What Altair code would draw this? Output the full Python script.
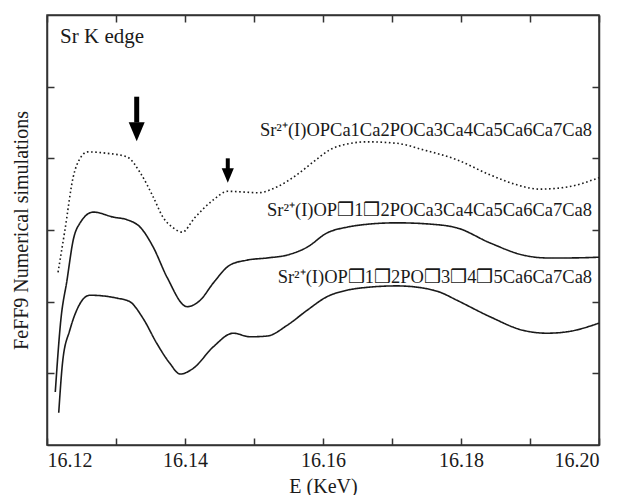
import altair as alt
import pandas as pd

FONT = "Liberation Serif"
INK = "#1a1a1a"
FRAME = "#333"

# ---- data ----
dot_E = [16.1216, 16.1226, 16.1238, 16.1248, 16.1259, 16.1287, 16.1316, 16.1335, 16.1354, 16.1368,
         16.1383, 16.1396, 16.1414, 16.1441, 16.1462, 16.1484, 16.1506, 16.1533, 16.1562, 16.1586,
         16.1610, 16.1635, 16.1664, 16.1707, 16.1745, 16.1794, 16.1842, 16.1881, 16.1914, 16.1954, 16.2000]
dot_Y = [2.41, 3.00, 3.74, 4.00, 4.09, 4.07, 4.02, 3.80, 3.46, 3.18,
         3.03, 2.97, 3.17, 3.42, 3.54, 3.53, 3.52, 3.60, 3.77, 3.95,
         4.12, 4.20, 4.23, 4.21, 4.12, 3.98, 3.77, 3.63, 3.57, 3.60, 3.73]

s1_E = [16.1212, 16.1220, 16.1229, 16.1238, 16.1248, 16.1267, 16.1296, 16.1317, 16.1335, 16.1354,
        16.1374, 16.1403, 16.1422, 16.1441, 16.1465, 16.1490, 16.1519, 16.1548, 16.1577, 16.1606,
        16.1635, 16.1664, 16.1707, 16.1770, 16.1794, 16.1842, 16.1890, 16.1925, 16.1954, 16.2000]
s1_Y = [0.74, 1.74, 2.30, 2.86, 3.10, 3.25, 3.18, 3.14, 3.04, 2.76,
        2.34, 1.93, 2.02, 2.26, 2.51, 2.58, 2.61, 2.65, 2.76, 2.96,
        3.04, 3.08, 3.10, 3.07, 3.03, 2.82, 2.65, 2.61, 2.61, 2.62]

s2_E = [16.1217, 16.1223, 16.1233, 16.1243, 16.1262, 16.1301, 16.1320, 16.1339, 16.1359, 16.1378,
        16.1393, 16.1412, 16.1441, 16.1470, 16.1494, 16.1519, 16.1548, 16.1577, 16.1606, 16.1635,
        16.1664, 16.1707, 16.1745, 16.1770, 16.1794, 16.1842, 16.1890, 16.1925, 16.1954, 16.2000]
s2_Y = [0.45, 1.19, 1.60, 1.88, 2.09, 2.05, 2.00, 1.77, 1.42, 1.14,
        0.99, 1.07, 1.37, 1.56, 1.51, 1.52, 1.67, 1.88, 2.07, 2.16,
        2.20, 2.22, 2.19, 2.13, 2.02, 1.79, 1.60, 1.56, 1.58, 1.70]

series_names = ["dotted", "solid1", "solid2"]

label_texts = ["Sr²⁺(I)OPCa1Ca2POCa3Ca4Ca5Ca6Ca7Ca8",
               "Sr²⁺(I)OP❒1❒2POCa3Ca4Ca5Ca6Ca7Ca8",
               "Sr²⁺(I)OP❒1❒2PO❒3❒4❒5Ca6Ca7Ca8"]
label_E = [16.1990, 16.1990, 16.1990]
label_Y = [4.40, 3.28, 2.34]

title_text = ["Sr K edge"]
title_E = [16.1219]
title_Y = [5.69]

arrow_E = [16.1330, 16.1462]
arrow_top = [4.86, 4.00]
arrow_base = [4.50, 3.80]
arrow_tip = [4.24, 3.66]

x_label_vals = [16.12, 16.14, 16.16, 16.18, 16.20]
x_tick_vals = [16.12, 16.13, 16.14, 16.15, 16.16, 16.17, 16.18, 16.19, 16.20]
y_tick_vals = [1, 2, 3, 4, 5]

# ---- tables ----
rows = []
for name, es, ys in zip(series_names, [dot_E, s1_E, s2_E], [dot_Y, s1_Y, s2_Y]):
    for e, y in zip(es, ys):
        rows.append({"series": name, "E": e, "Y": y})
df = pd.DataFrame(rows)

lab_df = pd.DataFrame({"text": label_texts, "E": label_E, "Y": label_Y})
ttl_df = pd.DataFrame({"text": title_text, "E": title_E, "Y": title_Y})
arr_df = pd.DataFrame({"E": arrow_E, "top": arrow_top, "base": arrow_base, "tip": arrow_tip})

xscale = alt.Scale(domain=[16.12, 16.20], nice=False, zero=False)
yscale = alt.Scale(domain=[0, 6], nice=False, zero=False)

TICK = dict(tickSize=7, tickWidth=1.5, tickColor=FRAME, offset=-7, labels=False,
            domain=False, grid=False, title=None)
EDGE = dict(ticks=False, labels=False, domain=True, domainColor=FRAME, domainWidth=1.5,
            grid=False, title=None)

lines = alt.Chart(df).mark_line(strokeWidth=1.6, interpolate="monotone", color=INK).encode(
    x=alt.X("E:Q", scale=xscale, axis=alt.Axis(
        orient="bottom", values=x_label_vals, format=".2f", ticks=False,
        domain=True, domainColor=FRAME, domainWidth=1.5, grid=False,
        labelFont=FONT, labelFontSize=20, labelColor=INK, labelPadding=5,
        title="E (KeV)", titleFont=FONT, titleFontSize=20, titleFontWeight="normal",
        titleColor=INK, titlePadding=6)),
    y=alt.Y("Y:Q", scale=yscale, axis=alt.Axis(
        orient="left", values=y_tick_vals, labels=False, ticks=False,
        domain=True, domainColor=FRAME, domainWidth=1.5, grid=False,
        title="FeFF9 Numerical simulations", titleFont=FONT, titleFontSize=20,
        titleFontWeight="normal", titleColor=INK, titlePadding=16)),
    detail="series:N",
    strokeDash=alt.StrokeDash("series:N", scale=alt.Scale(domain=series_names,
                              range=[[1.6, 2.6], [1, 0], [1, 0]]), legend=None),
)

ticks_a = alt.Chart(df).mark_line(opacity=0).encode(
    x=alt.X("E:Q", scale=xscale, axis=alt.Axis(orient="bottom", values=x_tick_vals, **TICK)),
    y=alt.Y("Y:Q", scale=yscale, axis=alt.Axis(orient="right", values=y_tick_vals, **TICK)),
    detail="series:N",
)

ticks_b = alt.Chart(df).mark_line(opacity=0).encode(
    x=alt.X("E:Q", scale=xscale, axis=alt.Axis(orient="top", values=x_tick_vals, **TICK)),
    y=alt.Y("Y:Q", scale=yscale, axis=alt.Axis(orient="left", values=y_tick_vals, **TICK)),
    detail="series:N",
)

edges = alt.Chart(df).mark_line(opacity=0).encode(
    x=alt.X("E:Q", scale=xscale, axis=alt.Axis(orient="top", **EDGE)),
    y=alt.Y("Y:Q", scale=yscale, axis=alt.Axis(orient="right", **EDGE)),
    detail="series:N",
)

labels = alt.Chart(lab_df).mark_text(font=FONT, fontSize=18.5, align="right", baseline="middle",
                                     color=INK).encode(
    x=alt.X("E:Q", scale=xscale, axis=None),
    y=alt.Y("Y:Q", scale=yscale, axis=None),
    text="text:N",
)

title = alt.Chart(ttl_df).mark_text(font=FONT, fontSize=21, align="left", baseline="middle",
                                    color=INK).encode(
    x=alt.X("E:Q", scale=xscale, axis=None),
    y=alt.Y("Y:Q", scale=yscale, axis=None),
    text="text:N",
)

arrow_layers = []
ARROW_STYLE = [(5, 400), (4, 230)]
for i, (sw, sz) in enumerate(ARROW_STYLE):
    one = arr_df.iloc[[i]]
    shaft = alt.Chart(one).mark_rule(strokeWidth=sw, color="#000").encode(
        x=alt.X("E:Q", scale=xscale, axis=None),
        y=alt.Y("top:Q", scale=yscale, axis=None),
        y2="base:Q",
    )
    head = alt.Chart(one).mark_point(shape="M-0.8,-1.9L0.8,-1.9L0,0Z", filled=True, size=sz,
                                     color="#000", opacity=1, strokeWidth=0).encode(
        x=alt.X("E:Q", scale=xscale, axis=None),
        y=alt.Y("tip:Q", scale=yscale, axis=None),
    )
    arrow_layers += [shaft, head]

chart = alt.layer(lines, ticks_a, ticks_b, edges, labels, title, *arrow_layers).resolve_axis(
    x="independent", y="independent"
).properties(
    width=552, height=430, autosize="none",
    padding={"left": 47, "top": 15, "right": 26, "bottom": 50},
    background="white",
).configure_view(stroke=FRAME, strokeWidth=1.5)

chart.save("out.html", embed_options={"renderer": "svg", "actions": False})
